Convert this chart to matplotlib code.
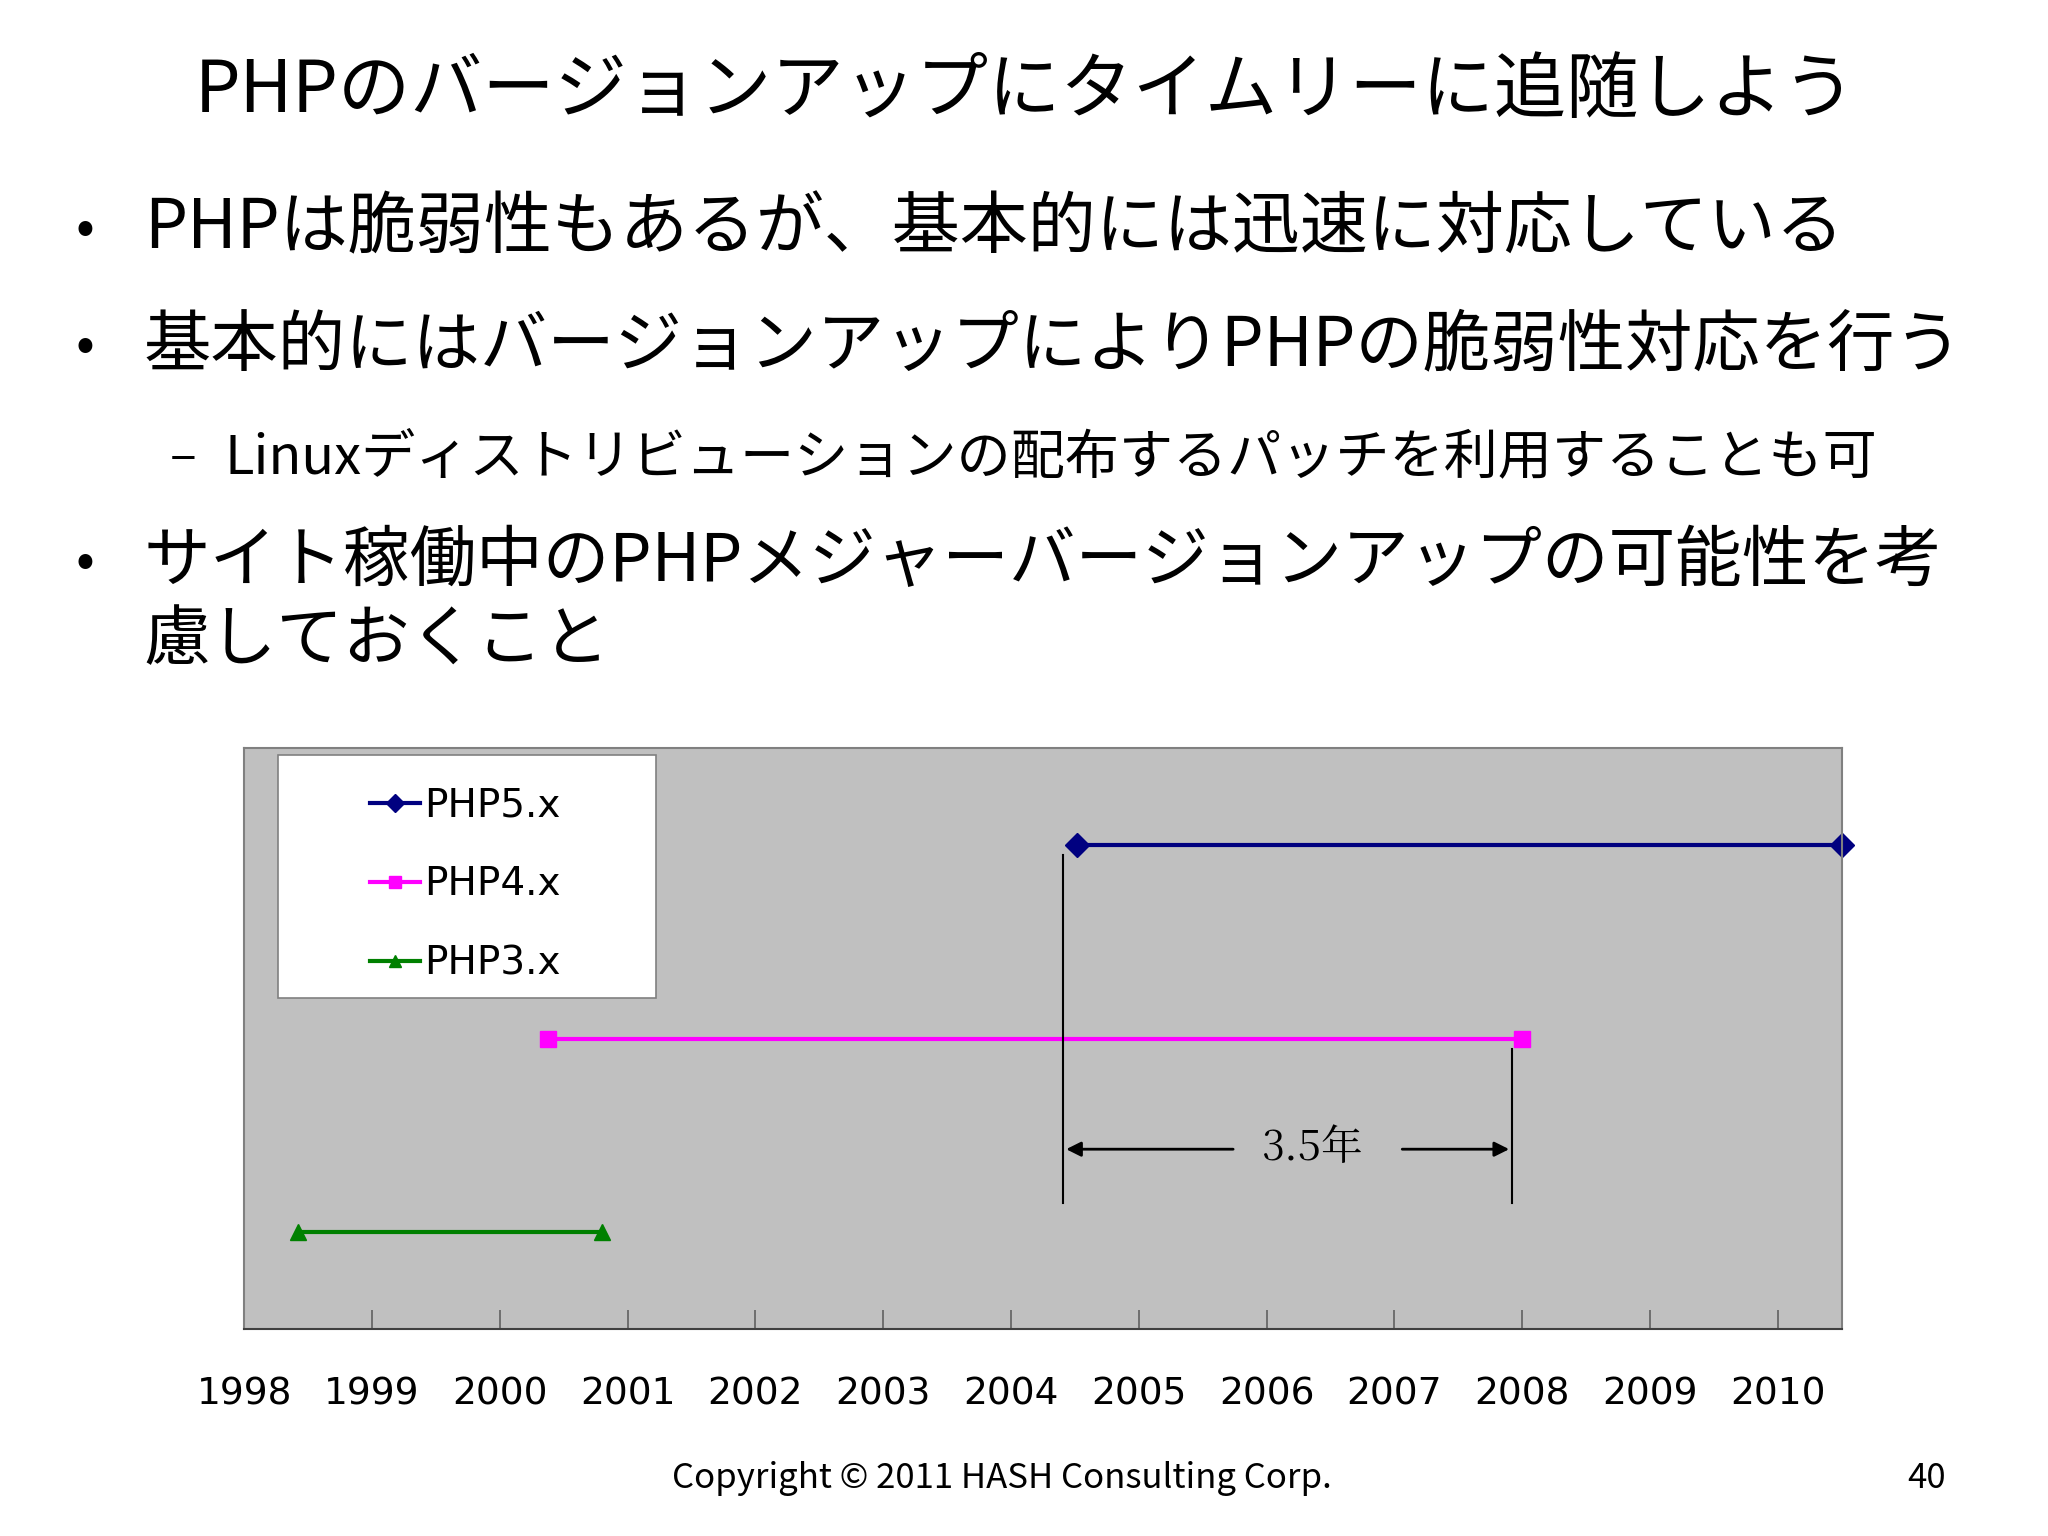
import matplotlib
matplotlib.use("Agg")
import matplotlib.pyplot as plt
from matplotlib.patches import Rectangle

plt.rcParams['font.family'] = ['Noto Sans CJK JP', 'DejaVu Sans']

series = ["PHP5.x", "PHP4.x", "PHP3.x"]
starts = [2004.52, 2000.38, 1998.42]
ends = [2010.5, 2008.0, 2000.8]
levels = [2.5, 1.5, 0.5]
colors = ["#000080", "#FF00FF", "#008000"]
markers = ["D", "s", "^"]
years = list(range(1998, 2011))
gap_start, gap_end = 2004.41, 2007.92
gap_label = "3.5年"

W, H = 1568, 1174

fig = plt.figure(figsize=(20.48, 15.36), dpi=100)
fig.patch.set_facecolor("white")

def ft(x, y, s, **kw):
    fig.text(x / W, 1 - y / H, s, va="center", **kw)

ft(785, 70, "PHPのバージョンアップにタイムリーに追随しよう", fontsize=52, ha="center")
ft(65, 175, "•", fontsize=40, ha="center")
ft(110, 175, "PHPは脆弱性もあるが、基本的には迅速に対応している", fontsize=49, ha="left")
ft(65, 265, "•", fontsize=40, ha="center")
ft(110, 265, "基本的にはバージョンアップによりPHPの脆弱性対応を行う", fontsize=48.5, ha="left")
ft(140, 350, "–", fontsize=36, ha="center")
ft(172, 350, "Linuxディストリビューションの配布するパッチを利用することも可", fontsize=39, ha="left")
ft(65, 430, "•", fontsize=40, ha="center")
ft(110, 430, "サイト稼働中のPHPメジャーバージョンアップの可能性を考", fontsize=48, ha="left")
ft(110, 490, "慮しておくこと", fontsize=48, ha="left")
ft(767, 1130, "Copyright © 2011 HASH Consulting Corp.", fontsize=25, ha="center")
ft(1475, 1130, "40", fontsize=25, ha="center")

ax = fig.add_axes([187 / W, 1 - 1016 / H, (1410 - 187) / W, (1016 - 572) / H])
ax.set_facecolor("#C0C0C0")
for s, x0, x1, lv, c, m in zip(series, starts, ends, levels, colors, markers):
    ax.plot([x0, x1], [lv, lv], color=c, lw=3, marker=m, markersize=12, label=s, clip_on=False)
ax.set_xlim(1998, 2010.5)
ax.set_ylim(0, 3)
ax.set_yticks([])
ax.set_xticks(years)
ax.set_xticklabels([str(y) for y in years], fontsize=27, family="DejaVu Sans")
ax.tick_params(axis="x", direction="in", length=14, width=1.2, color="#606060", pad=34)
for sp in ax.spines.values():
    sp.set_color("#808080")
    sp.set_linewidth(1.5)
ax.spines["bottom"].set_color("#404040")

# 3.5 year annotation
ax.plot([gap_start, gap_start], [0.65, 2.45], color="black", lw=1.5)
ax.plot([gap_end, gap_end], [0.65, 1.45], color="black", lw=1.5)
ymid = 0.93
ax.annotate("", xy=(gap_start, ymid), xytext=(gap_start + 1.35, ymid),
            arrowprops=dict(arrowstyle="-|>", color="black", lw=2, mutation_scale=22))
ax.annotate("", xy=(gap_end, ymid), xytext=(gap_end - 0.88, ymid),
            arrowprops=dict(arrowstyle="-|>", color="black", lw=2, mutation_scale=22))
ax.text(gap_start + 1.55, ymid, gap_label, fontsize=30, ha="left", va="center",
        family=["Noto Serif CJK JP", "DejaVu Serif"])

# legend box
ax.add_patch(Rectangle((0.021, 0.570), 0.237, 0.419, transform=ax.transAxes,
                       facecolor="white", edgecolor="#808080", lw=1.2, zorder=4))
leg = ax.legend(loc="center left", bbox_to_anchor=(0.0785, 0.766), fontsize=28, frameon=False,
                labelspacing=1.05, borderpad=0, handlelength=1.3, handletextpad=0.1,
                borderaxespad=0, markerscale=0.75)
leg.set_zorder(5)
for t in leg.get_texts():
    t.set_family("DejaVu Sans")

fig.savefig("out.png", dpi=100)
